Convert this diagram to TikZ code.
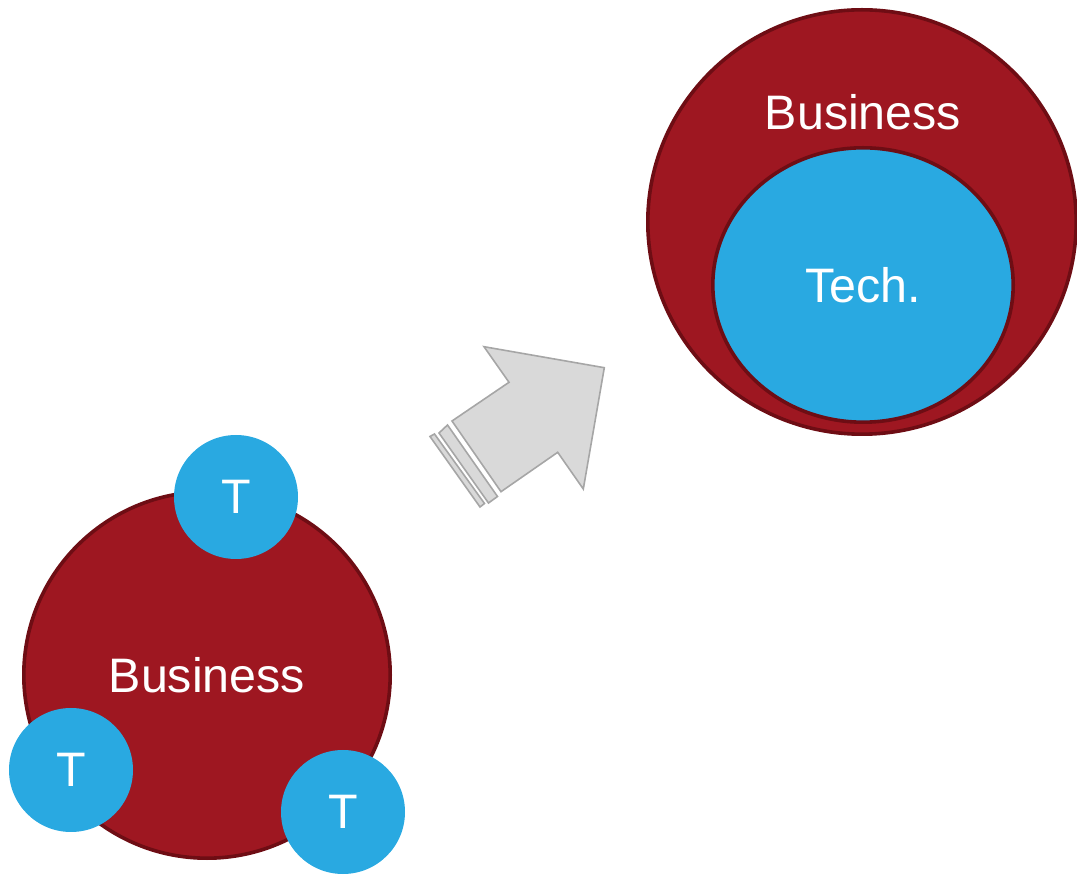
\documentclass[tikz,border=0pt]{standalone}
\usepackage{fontspec}
\setmainfont{Liberation Sans}
\usetikzlibrary{shapes.geometric}
\definecolor{bizred}{HTML}{9E1721}
\definecolor{bizedge}{HTML}{6E0D14}
\definecolor{techblue}{HTML}{29A9E1}
\definecolor{arrowgray}{HTML}{D9D9D9}
\definecolor{arrowedge}{HTML}{A6A6A6}
\tikzset{
    business/.style={circle, draw=bizedge, line width=1.8pt, fill=bizred, text=white, inner sep=0pt}, % red business shape
    tech/.style={circle, fill=techblue, text=white, inner sep=0pt, minimum size=62pt}, % small blue T
    bigarrow/.style={draw=arrowedge, fill=arrowgray, line width=0.8pt, line join=miter},
    label font/.style={font=\fontsize{24.2}{29}\selectfont}
}

\begin{document}
\begin{tikzpicture}[x=0.5pt, y=-0.5pt, label font]
    \useasboundingbox (0,0) rectangle (1077,876);

    % before: business with separate techs
    \node[business, minimum size=183.2pt] (biz) at (207,675) {Business};
    \node[tech] (tone) at (236,497) {T};
    \node[tech] (ttwo) at (71,770) {T};
    \node[tech] (tthree) at (343,812) {T};

    % after: tech inside business
    \node[business, ellipse, minimum width=214.2pt, minimum height=212.2pt] (bizbig) at (862,222) {};
    \node[business, ellipse, fill=techblue, minimum width=150.2pt, minimum height=137.2pt] (techbig) at (863,285) {Tech.};
    \node[text=white, anchor=base, inner sep=0pt] (bizname) at (863,130) {Business};

    % arrow
    \draw[bigarrow] (484,346.7) -- (604.3,367.7) -- (583.3,489) -- (557.7,452.3) -- (501,491.7) -- (452,421) -- (509,382.3) -- cycle;
    \draw[bigarrow] (439,433) -- (447.5,425) -- (497.5,496.5) -- (488.5,503) -- cycle;
    \draw[bigarrow] (430,436.5) -- (434.5,434) -- (484.5,503.5) -- (480,507) -- cycle;
\end{tikzpicture}
\end{document}
